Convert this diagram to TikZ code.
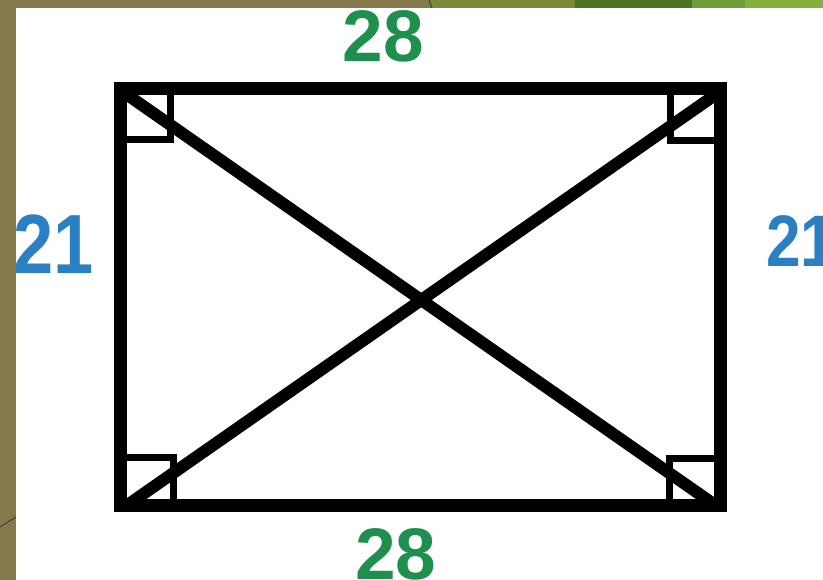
\documentclass[tikz,border=0pt]{standalone}
\usepackage{fontspec}
\setmainfont{Liberation Sans}
\usepackage{xcolor}
\usetikzlibrary{calc}
\definecolor{oliveback}{HTML}{857A4C}
\definecolor{olivegreen}{HTML}{7A8A3C}
\definecolor{darkgreen}{HTML}{4D7326}
\definecolor{lightgreen}{HTML}{6E9E3C}
\definecolor{palegreen}{HTML}{84B040}
\definecolor{sidegreen}{HTML}{1F8F4E}
\definecolor{sideblue}{HTML}{2B80C4}

\begin{document}
\begin{tikzpicture}[x=1pt,y=-1pt,
  side/.style={font=\bfseries\fontsize{73}{73}\selectfont, inner sep=0pt},
  tallside/.style={font=\bfseries\fontsize{84}{84}\selectfont, inner sep=0pt, xscale=0.86},
  anglemark/.style={line width=7pt}]
\useasboundingbox (0,0) rectangle (823,580);
\clip (0,0) rectangle (823,580);
% slide background
\fill[white] (0,0) rectangle (823,580);
\fill[oliveback] (0,0) rectangle (16,580);
\fill[oliveback] (0,0) rectangle (432,8);
\fill[olivegreen] (432,0) rectangle (575,8);
\fill[darkgreen] (575,0) rectangle (692,8);
\fill[lightgreen] (692,0) rectangle (745,8);
\fill[palegreen] (745,0) rectangle (823,8);
\draw[black!80, line width=0.8pt] (429,0) -- (432,8);
\draw[black!80, line width=0.8pt] (0,527) -- (16,517);

\coordinate (A) at (120,88.5);
\coordinate (B) at (720.5,88.5);
\coordinate (C) at (720.5,505.5);
\coordinate (D) at (120,505.5);

% right angle marks
\draw[anglemark] (A) ++(50,0) |- ++(-50,51.5);
\draw[anglemark] (B) ++(-50.5,0) |- ++(50.5,52.5);
\draw[anglemark] (D) ++(53,0) |- ++(-53,-48.5);
\draw[anglemark] (C) ++(-51.5,0) |- ++(51.5,-47.5);

% diagonals, kept inside the frame
\begin{scope}
\clip ($(A)+(-6,-6)$) rectangle ($(C)+(6,6)$);
\draw[line width=12pt] ($(A)+(1,2)$) -- ($(C)+(1,4)$);
\draw[line width=12pt] ($(B)+(1,2)$) -- ($(D)+(1,4)$);
\end{scope}
\draw[line width=13pt, line cap=rect] (A) -- (B) -- (C) -- (D) -- cycle;

\node[side, text=sidegreen] (top) at (383.5,36) {28};
\node[side, text=sidegreen] (bottom) at (396,554) {28};
\node[tallside, text=sideblue] (left) at (54,244) {21};
\node[side, text=sideblue, xscale=0.85, anchor=west] (right) at (766,241.5) {21};
\end{tikzpicture}
\end{document}
